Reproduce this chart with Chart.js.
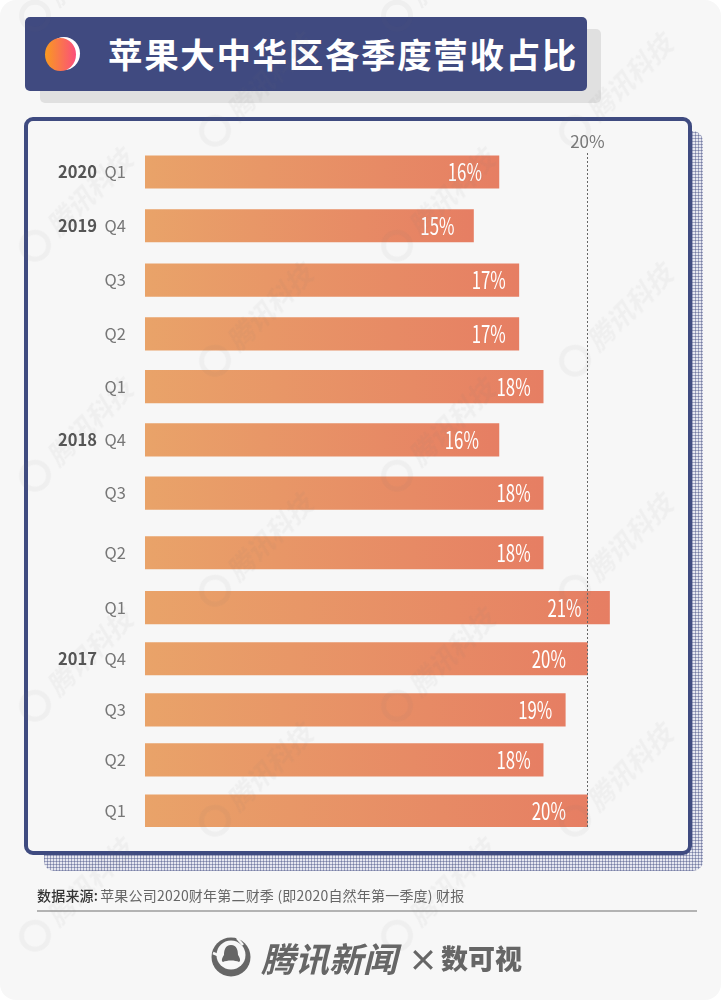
<!DOCTYPE html>
<html lang="zh">
<head>
<meta charset="utf-8">
<title>苹果大中华区各季度营收占比</title>
<script src="https://cdn.jsdelivr.net/npm/chart.js@4"></script>
<style>
  html, body { margin: 0; padding: 0; background: #fff; }
  #page { position: relative; width: 721px; height: 1000px; background: #f7f7f7; border-radius: 16px; overflow: hidden;
          font-family: "Noto Sans CJK SC", sans-serif; }
  #page > * { position: absolute; }
  #titleShadow { left: 40px; top: 29px; width: 561px; height: 74px; background: #e0e0e0; border-radius: 5px; }
  #titleBox { left: 25px; top: 17px; width: 562px; height: 74px; background: #404a80; border-radius: 5px; }
  #titleBox h1 { position: absolute; left: 83px; top: 0; margin: 0; line-height: 72px; font-size: 34.5px; font-weight: 700; color: #fff; white-space: nowrap; letter-spacing: 1.65px; }
  .moon { position: absolute; border-radius: 50%; }
  #moonBack { left: 23px; top: 20px; width: 32px; height: 33px; background: #fff; }
  #moonFront { left: 20px; top: 21px; width: 31px; height: 33px; background: linear-gradient(90deg, #f99a20, #fb4f7c); }
  #frameShadow { left: 44px; top: 131px; width: 659px; height: 740px; border-radius: 10px; background-color: #e6e7f0;
    background-image: repeating-linear-gradient(0deg, rgba(64,74,128,.42) 0 1px, transparent 1px 3px), repeating-linear-gradient(90deg, rgba(64,74,128,.42) 0 1px, transparent 1px 3px); }
  #frame { left: 24px; top: 117px; width: 660px; height: 730px; border: 4px solid #3f4b80; border-radius: 9px; background: #f7f7f7; }
  #chart { left: 0; top: 0; }
  #source { left: 37px; top: 885px; font-size: 14px; line-height: 20px; color: #666; white-space: pre; letter-spacing: .2px; }
  #source b { font-weight: 500; color: #333; margin-right: 2px; }
  #rule { left: 37px; top: 910px; width: 660px; height: 1.5px; background: #b3b3b3; }
  #logo { left: 211px; top: 937px; }
  #news { left: 261px; top: 933px; font-size: 34px; line-height: 50px; font-weight: 700; font-style: italic; color: #666; white-space: nowrap; }
  #times { left: 408px; top: 936px; font-size: 30px; line-height: 44px; font-weight: 700; color: #666; }
  #shi { left: 441px; top: 938px; font-size: 27px; line-height: 40px; font-weight: 900; color: #666; white-space: nowrap; }
  .wm { display: flex; align-items: center; gap: 6px; transform: translate(-50%, -50%) rotate(-45deg); color: rgba(110,110,110,.055);
        font-size: 27px; font-weight: 700; font-style: italic; white-space: nowrap; pointer-events: none; }
  .wm i { display: block; width: 22px; height: 22px; border: 5px solid rgba(110,110,110,.055); border-radius: 50%; }
</style>
</head>
<body>
<div id="page">
  <div id="titleShadow"></div>
  <div id="titleBox">
    <div class="moon" id="moonBack"></div>
    <div class="moon" id="moonFront"></div>
    <h1>苹果大中华区各季度营收占比</h1>
  </div>
  <div id="frameShadow"></div>
  <div id="frame"></div>
  <canvas id="chart" width="721" height="1000"></canvas>
  <div id="source"><b>数据来源:</b>苹果公司2020财年第二财季 (即2020自然年第一季度) 财报</div>
  <div id="rule"></div>
  <svg id="logo" width="40" height="40" viewBox="0 0 40 40">
    <circle cx="20" cy="20" r="19.5" fill="#666"/>
    <circle cx="20" cy="18" r="14.5" fill="#f7f7f7"/>
    <path d="M20 8 C26 8 27 14 27 18 C29 21 30 24 28 25 C24 23 16 23 12 25 C10 24 11 21 13 18 C13 14 14 8 20 8 Z" fill="#666"/>
    <path d="M2 16 L9 19 M26 1 L32 8" stroke="#f7f7f7" stroke-width="2.5"/>
  </svg>
  <div id="news">腾讯新闻</div>
  <div id="times">×</div>
  <div id="shi">数可视</div>
</div>

<script>
const years = ['2020', '2019', '', '', '', '2018', '', '', '', '2017', '', '', ''];
const quarters = ['Q1', 'Q4', 'Q3', 'Q2', 'Q1', 'Q4', 'Q3', 'Q2', 'Q1', 'Q4', 'Q3', 'Q2', 'Q1'];
const shares = [16, 14.85, 16.9, 16.9, 18, 16, 18, 18, 21, 20, 19, 18, 20];
const xTickValues = [20];

// Row spots on the y scale, the original spaces its rows a little unevenly
const rowSlots = [0, 1.01, 2.03, 3.04, 4.03, 5.03, 6.03, 7.15, 8.18, 9.14, 10.1, 11.04, 12];
// How far each printed label sits from the end of its bar
const labelInsets = [17, 19, 13, 13, 12.5, 20, 12.5, 12.5, 28, 21.5, 13, 12.5, 21.5];

// Bars fade from orange to coral along their own length
const barGradient = (ctx) => {
    const chart = ctx.chart;
    if (!chart.chartArea || !ctx.parsed) return '#e68a64';
    const xScale = chart.scales.x;
    const g = chart.ctx.createLinearGradient(xScale.getPixelForValue(0), 0, xScale.getPixelForValue(ctx.parsed.x), 0);
    g.addColorStop(0, '#e9a369');
    g.addColorStop(1, '#e67e63');
    return g;
};

// Bold year in front of the quarter ticks
const yearLabels = {
    id: 'yearLabels',
    afterDraw(chart) {
        const c = chart.ctx;
        const yScale = chart.scales.y;
        c.save();
        c.font = '700 16.5px "Noto Sans CJK SC"';
        c.fillStyle = '#555';
        c.textAlign = 'right';
        c.textBaseline = 'middle';
        years.forEach((year, i) => {
            if (year) c.fillText(year, 97, yScale.getPixelForValue(rowSlots[i]));
        });
        c.restore();
    }
};

// White condensed percent labels inside the bars
const valueLabels = {
    id: 'valueLabels',
    afterDraw(chart) {
        const c = chart.ctx;
        const xScale = chart.scales.x;
        const yScale = chart.scales.y;
        c.save();
        c.font = '24px "Noto Sans CJK SC"';
        c.fillStyle = '#fff';
        c.textAlign = 'right';
        c.textBaseline = 'middle';
        shares.forEach((share, i) => {
            const right = xScale.getPixelForValue(share) - labelInsets[i];
            c.save();
            c.translate(right, yScale.getPixelForValue(rowSlots[i]));
            c.scale(0.7, 1);
            c.fillText(Math.round(share) + '%', 0, 0);
            c.restore();
        });
        c.restore();
    }
};

new Chart(document.getElementById('chart').getContext('2d'), {
    type: 'bar',
    data: {
        datasets: [{
            data: shares.map((share, i) => ({ x: share, y: rowSlots[i] })),
            backgroundColor: barGradient,
            barThickness: 32.5,
            borderWidth: 0
        }]
    },
    options: {
        indexAxis: 'y',
        responsive: false,
        animation: false,
        layout: { padding: { right: 23, bottom: 173 } },
        plugins: { legend: { display: false }, tooltip: { enabled: false } },
        scales: {
            x: {
                type: 'linear',
                position: 'top',
                min: 0,
                max: 25,
                afterBuildTicks: (scale) => { scale.ticks = xTickValues.map(value => ({ value })); },
                afterFit: (scale) => { scale.height = 153; },
                ticks: {
                    callback: (value) => value + '%',
                    color: '#777',
                    font: { family: '"Noto Sans CJK SC"', size: 17 },
                    padding: 1,
                    maxRotation: 0
                },
                grid: { color: '#666', lineWidth: 1, drawTicks: false, z: 1 },
                border: { display: false, dash: [2, 2] }
            },
            y: {
                type: 'linear',
                reverse: true,
                offset: false,
                min: -0.357,
                max: 12.3,
                afterBuildTicks: (scale) => { scale.ticks = rowSlots.map(value => ({ value })); },
                afterFit: (scale) => { scale.width = 145; },
                ticks: {
                    autoSkip: false,
                    callback: (value, i) => quarters[i],
                    color: '#777',
                    font: { family: '"Noto Sans CJK SC"', size: 16.5 },
                    padding: 19
                },
                grid: { display: false, drawTicks: false, offset: false },
                border: { display: false }
            }
        }
    },
    plugins: [yearLabels, valueLabels]
});

// Faint diagonal watermarks over the whole page
const page = document.getElementById('page');
const addMark = (x, y) => {
    const mark = document.createElement('div');
    mark.className = 'wm';
    mark.style.left = x + 'px';
    mark.style.top = y + 'px';
    mark.innerHTML = '<i></i><span>腾讯科技</span>';
    page.appendChild(mark);
};
[255, 615].forEach(x => [90, 320, 550, 780].forEach(y => addMark(x, y)));
[75, 437].forEach(x => [-25, 205, 435, 665, 895].forEach(y => addMark(x, y)));
</script>
</body>
</html>
